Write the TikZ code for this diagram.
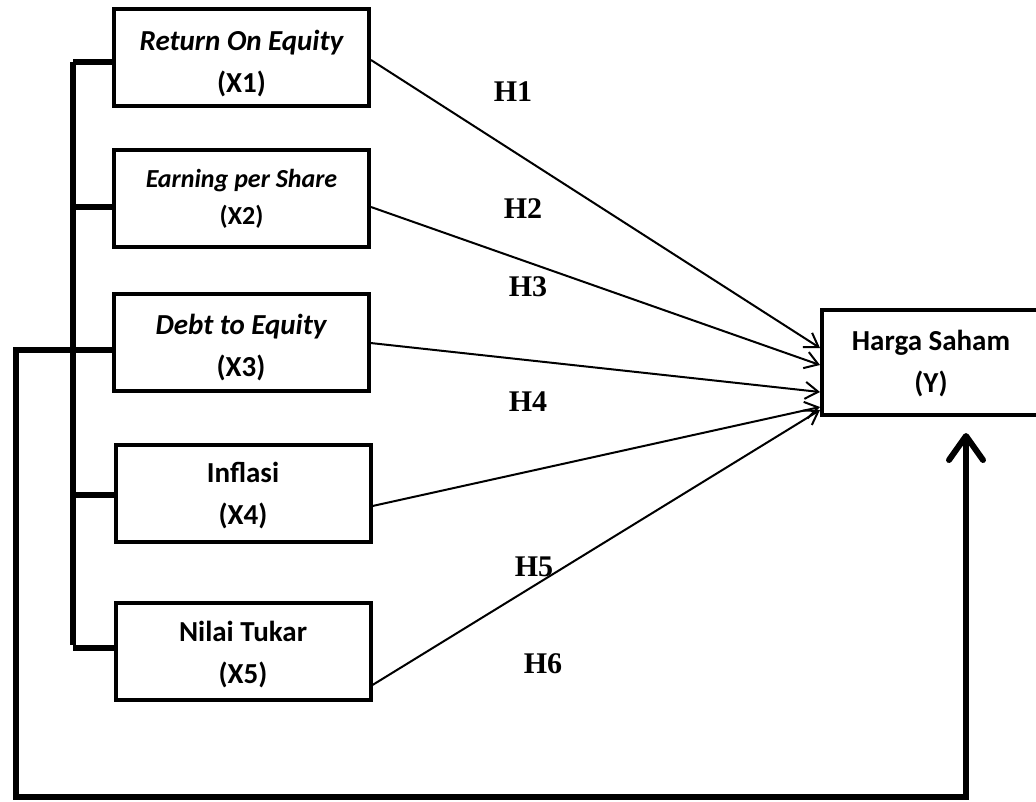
\documentclass[tikz,border=0pt]{standalone}
\usepackage{fontspec}
\setmainfont{Carlito}
\newfontfamily\hypfont{Liberation Serif}
\usepackage{tikz}
\usetikzlibrary{
    arrows.meta,
    positioning,
    calc
}

\newcommand{\topgap}[1]{\rule{0pt}{#1}}

\begin{document}
\begin{tikzpicture}[
        x=1pt,
        y=-1pt,
        var/.style={
            rectangle,
            draw,
            line width=4pt,
            align=center,
            inner sep=0pt,
            minimum width=255pt,
            minimum height=97pt,
            font=\fontsize{29}{42}\selectfont\bfseries
        },
        link/.style={
            -{Straight Barb[length=13pt,width=17pt]},
            line width=2pt
        },
        bar/.style={
            line width=6pt
        },
        feedback/.style={
            -{Straight Barb[length=24pt,width=34pt,round]},
            line width=6pt
        },
        hyp/.style={
            font=\hypfont\fontsize{30}{32}\selectfont\bfseries
        }
    ]

    \useasboundingbox (0,0) rectangle (1036,801);
    \clip (0,0) rectangle (1036,801);

    \node[var] (roe) at (241.5,57.5)
        {\topgap{32pt}{\itshape Return On Equity}\\
         (X1)};

    \node[var, font=\fontsize{26}{37}\selectfont\bfseries] (eps) at (241.5,198.5)
        {{\itshape Earning per Share}\\
         (X2)};

    \node[var] (der) at (241,342.5)
        {\topgap{30pt}{\itshape Debt to Equity}\\
         (X3)};

    \node[var] (inf) at (243,493.5)
        {\topgap{24pt}Inflasi\\
         (X4)};

    \node[var] (kurs) at (243,651)
        {\topgap{28pt}Nilai Tukar\\
         (X5)};

    \node[var, minimum width=218pt, minimum height=105pt] (saham) at (931,362.5)
        {\topgap{23pt}Harga Saham\\
         (Y)};

    \coordinate (spinetop) at (73,62);
    \coordinate (spinebot) at (73,645);
    \coordinate (fbcorner) at (16,797);

    \draw[bar] (spinetop) -- (spinebot);
    \draw[bar] (spinetop) -- (spinetop -| roe.west);
    \draw[bar] ([yshift=-8.5pt]eps.west) -- ++(-39,0);
    \draw[bar] ([yshift=-1.5pt]inf.west) -- ++(-41,0);
    \draw[bar] ([yshift=3pt]kurs.west) -- ++(-41,0);

    \draw[feedback]
        ([yshift=-7.5pt]der.west)
        -| (fbcorner)
        -| ([shift={(35pt,-16pt)}]saham.south);

    \draw[link] ([yshift=-2.5pt]roe.east) -- ([yshift=14.5pt]saham.west);
    \draw[link] ([yshift=-8.5pt]eps.east) -- ([yshift=-2.5pt]saham.west);
    \draw[link] ([yshift=-0.5pt]der.east) -- ([yshift=-29.5pt]saham.west);
    \draw[link] ([yshift=-12.5pt]inf.east) -- ([yshift=-44.5pt]saham.west);
    \draw[link] ([yshift=-34pt]kurs.east) -- ([yshift=-47.5pt]saham.west);

    \node[hyp] (h1) at (513,92) {H1};
    \node[hyp] (h2) at (523,209) {H2};
    \node[hyp] (h3) at (528,287) {H3};
    \node[hyp] (h4) at (528,402) {H4};
    \node[hyp] (h5) at (534,567) {H5};
    \node[hyp] (h6) at (543,664) {H6};

\end{tikzpicture}
\end{document}
